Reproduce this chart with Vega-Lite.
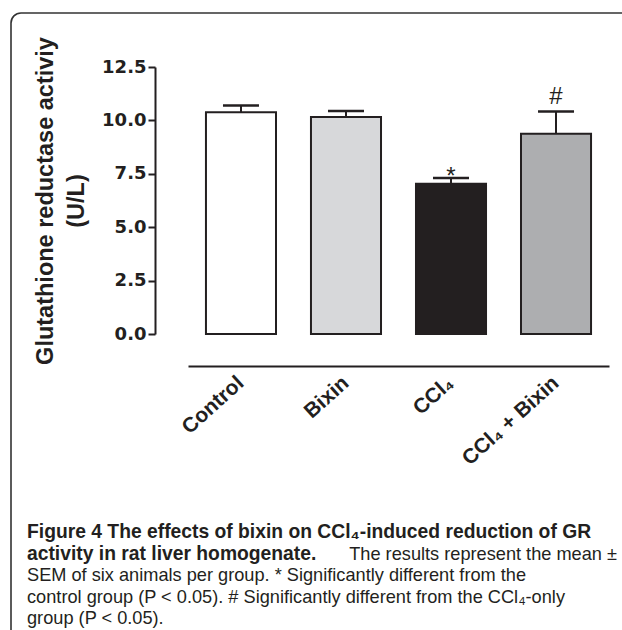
{
  "$schema": "https://vega.github.io/schema/vega-lite/v6.json",
  "width": 627,
  "height": 627,
  "autosize": {"type": "none"},
  "padding": {"left": 11, "top": 13, "right": -16, "bottom": -10},
  "background": "white",
  "config": {
    "view": {"stroke": "#333333", "strokeWidth": 1.6, "cornerRadius": 10, "fill": "white"}
  },
  "datasets": {
    "groups": [
      {"group": "Control", "mean": 10.38, "sem": 0.32, "sig": ""},
      {"group": "Bixin", "mean": 10.16, "sem": 0.28, "sig": ""},
      {"group": "CCl₄", "mean": 7.03, "sem": 0.27, "sig": "*"},
      {"group": "CCl₄ + Bixin", "mean": 9.37, "sem": 1.05, "sig": "#"}
    ],
    "caption": [
      {"line": 1, "side": "left", "role": "heading", "text": "Figure 4 The effects of bixin on CCl₄-induced reduction of GR"},
      {"line": 2, "side": "left", "role": "heading", "text": "activity in rat liver homogenate."},
      {"line": 2, "side": "right", "role": "body", "text": "The results represent the mean ±"},
      {"line": 3, "side": "left", "role": "body", "text": "SEM of six animals per group. * Significantly different from the"},
      {"line": 4, "side": "left", "role": "body", "text": "control group (P < 0.05). # Significantly different from the CCl₄-only"},
      {"line": 5, "side": "left", "role": "body", "text": "group (P < 0.05)."}
    ]
  },
  "layer": [
    {
      "data": {"name": "groups"},
      "transform": [{"calculate": "datum.mean + datum.sem", "as": "upper"}],
      "encoding": {
        "x": {
          "field": "group", "type": "nominal", "sort": null,
          "scale": {"range": [177, 598], "paddingInner": 0.333, "paddingOuter": 0.171},
          "axis": {
            "title": null, "offset": -274, "domainWidth": 2, "domainColor": "#231f20",
            "ticks": false, "labelAngle": -42, "labelFont": "Liberation Sans", "labelFontWeight": "bold",
            "labelFontSize": 21, "labelColor": "#231f20", "labelPadding": 14,
            "labelAlign": "right", "labelBaseline": "middle", "labelOverlap": false
          }
        }
      },
      "layer": [
        {
          "mark": {"type": "bar", "stroke": "#231f20", "strokeWidth": 2},
          "encoding": {
            "y": {
              "field": "mean", "type": "quantitative",
              "scale": {"domain": [0, 12.5], "range": [321, 54], "nice": false},
              "axis": {
                "title": ["Glutathione reductase activiy", "(U/L)"],
                "values": [0, 2.5, 5, 7.5, 10, 12.5], "format": ".1f", "offset": -144,
                "grid": false, "domainColor": "#231f20", "domainWidth": 2,
                "tickColor": "#231f20", "tickWidth": 2, "tickSize": 7, "labelPadding": 2,
                "labelFont": "DejaVu Sans", "labelFontWeight": "bold", "labelFontSize": 18,
                "labelColor": "#231f20", "labelOverlap": false, "labelFlush": false,
                "titleFont": "Liberation Sans", "titleFontSize": 23.5, "titleFontWeight": "bold",
                "titleColor": "#231f20", "titleLineHeight": 31, "titlePadding": 13
              }
            },
            "fill": {
              "field": "group", "type": "nominal",
              "scale": {"domain": ["Control", "Bixin", "CCl₄", "CCl₄ + Bixin"], "range": ["#ffffff", "#d7d8da", "#231f20", "#adaeb0"]},
              "legend": null
            }
          }
        },
        {
          "mark": {"type": "rule", "stroke": "#231f20", "strokeWidth": 2},
          "encoding": {"y": {"field": "mean", "type": "quantitative"}, "y2": {"field": "upper"}}
        },
        {
          "mark": {"type": "tick", "color": "#231f20", "size": 36, "thickness": 2.5, "opacity": 1},
          "encoding": {"y": {"field": "upper", "type": "quantitative"}}
        },
        {
          "transform": [{"filter": "datum.sig == '*'"}],
          "mark": {"type": "text", "font": "Liberation Sans", "fontSize": 24, "baseline": "alphabetic", "dy": 6, "color": "#231f20"},
          "encoding": {"y": {"field": "upper", "type": "quantitative"}, "text": {"field": "sig"}}
        },
        {
          "transform": [{"filter": "datum.sig == '#'"}],
          "mark": {"type": "text", "font": "Liberation Sans", "fontSize": 24, "baseline": "alphabetic", "dy": -7, "color": "#231f20"},
          "encoding": {"y": {"field": "upper", "type": "quantitative"}, "text": {"field": "sig"}}
        }
      ]
    },
    {
      "data": {"name": "caption"},
      "encoding": {
        "x": {"field": "side", "type": "nominal", "scale": {"type": "point", "domain": ["left", "right"], "range": [16, 606], "padding": 0}, "axis": null},
        "y": {"field": "line", "type": "quantitative", "scale": {"domain": [1, 5], "range": [525, 611]}, "axis": null},
        "text": {"field": "text"}
      },
      "layer": [
        {
          "transform": [{"filter": "datum.role == 'heading'"}],
          "mark": {"type": "text", "align": "left", "baseline": "alphabetic", "font": "Liberation Sans", "fontWeight": "bold", "fontSize": 19.3, "color": "#231f20"}
        },
        {
          "transform": [{"filter": "datum.role == 'body' && datum.side == 'left'"}],
          "mark": {"type": "text", "align": "left", "baseline": "alphabetic", "font": "Liberation Sans", "fontSize": 18.2, "color": "#231f20"}
        },
        {
          "transform": [{"filter": "datum.side == 'right'"}],
          "mark": {"type": "text", "align": "right", "baseline": "alphabetic", "font": "Liberation Sans", "fontSize": 18.2, "color": "#231f20"}
        }
      ]
    }
  ],
  "resolve": {"scale": {"x": "independent", "y": "independent"}}
}
